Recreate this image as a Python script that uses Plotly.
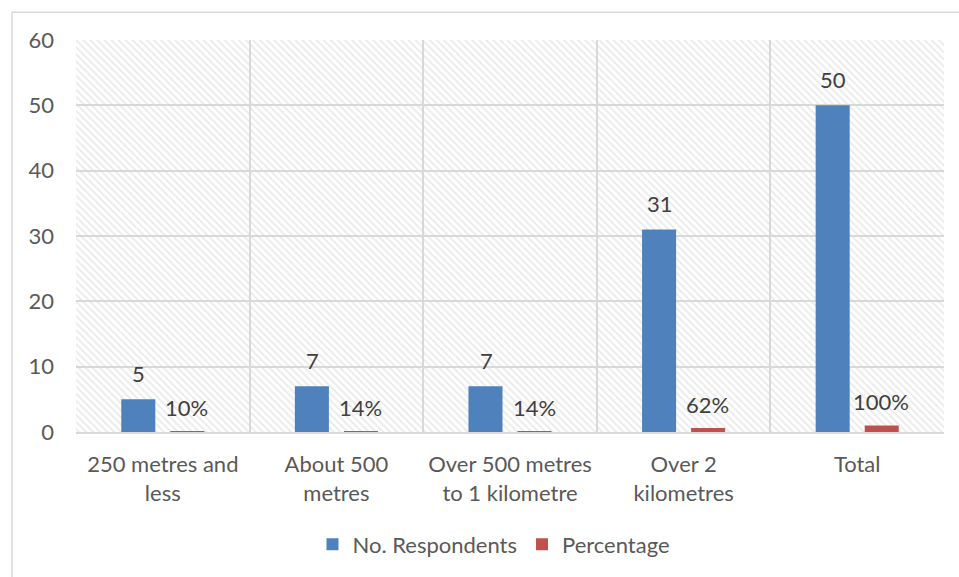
import plotly.graph_objects as go

categories = ["250 metres and<br>less", "About 500<br>metres", "Over 500 metres<br>to 1 kilometre",
              "Over 2<br>kilometres", "Total"]
respondents = [5, 7, 7, 31, 50]
percentage = [0.10, 0.14, 0.14, 0.62, 1.00]
y_ticks = [0, 10, 20, 30, 40, 50, 60]

BLUE = "#4F81BD"
RED = "#C0504D"
GRID = "#D9D9D9"
TXT = "#595959"
FONT = "Lato"
FS = 22

fig = go.Figure()

# hatched plot-area background
fig.add_trace(go.Bar(
    x=[2], y=[60], width=[5], xaxis="x", yaxis="y",
    marker=dict(color="rgba(0,0,0,0)", line=dict(width=0),
                pattern=dict(shape="\\", fgcolor="#D6D6D6", bgcolor="rgba(0,0,0,0)",
                             size=5, solidity=0.35)),
    showlegend=False, hoverinfo="skip"))

fig.add_trace(go.Bar(name="No. Respondents", x=categories, y=respondents,
                     marker=dict(color=BLUE, line=dict(width=0)),
                     xaxis="x2", yaxis="y2"))
fig.add_trace(go.Bar(name="Percentage", x=categories, y=percentage,
                     marker=dict(color=RED, line=dict(width=0)),
                     xaxis="x2", yaxis="y2"))

annotations = []
for c, v in zip(categories, respondents):
    annotations.append(dict(x=c, y=v, xref="x2", yref="y2", text=str(v), showarrow=False,
                            yanchor="bottom", xshift=-24, yshift=10,
                            font=dict(family=FONT, size=FS, color="#404040")))
for c, v in zip(categories, percentage):
    annotations.append(dict(x=c, y=v, xref="x2", yref="y2", text=f"{round(v*100)}%", showarrow=False,
                            yanchor="bottom", xshift=24, yshift=8,
                            font=dict(family=FONT, size=FS, color="#404040")))

W, H = 959, 577
ml, mr, mt, mb = 76, 15, 40, 143
pw, ph = W - ml - mr, H - mt - mb

fig.update_layout(
    width=W, height=H,
    margin=dict(l=ml, r=mr, t=mt, b=mb),
    paper_bgcolor="white", plot_bgcolor="white",
    barmode="group", bargap=0.435, bargroupgap=0.306,
    font=dict(family=FONT, size=FS, color=TXT),
    xaxis=dict(range=[-0.5, 4.5], visible=False, fixedrange=True),
    yaxis=dict(range=[0, 60], tickvals=y_ticks, showgrid=True, gridcolor=GRID, gridwidth=1.5,
               zeroline=False, showline=False, ticks="", ticklabelstandoff=21,
               tickfont=dict(family=FONT, size=FS, color=TXT)),
    xaxis2=dict(overlaying="x", type="category", tickson="boundaries", showgrid=True,
                gridcolor=GRID, gridwidth=1.5, showline=True, linecolor=GRID, linewidth=1.5,
                ticks="", tickfont=dict(family=FONT, size=FS, color=TXT), ticklabelstandoff=12),
    yaxis2=dict(overlaying="y", range=[0, 60], visible=False, showgrid=False),
    legend=dict(orientation="h", x=(494 - ml) / pw, xanchor="center", y=-(547 - mt - ph) / ph,
                yanchor="middle", font=dict(family=FONT, size=FS, color=TXT),
                itemsizing="constant", traceorder="normal"),
    annotations=annotations,
    shapes=[dict(type="rect", xref="paper", yref="paper",
                 x0=(12 - ml) / pw, y0=-(H - mt - ph + 20) / ph, x1=(W + 20 - ml) / pw,
                 y1=1 + (mt - 12) / ph, line=dict(color=GRID, width=1.5), layer="below")],
)

fig.write_html("out.html")
